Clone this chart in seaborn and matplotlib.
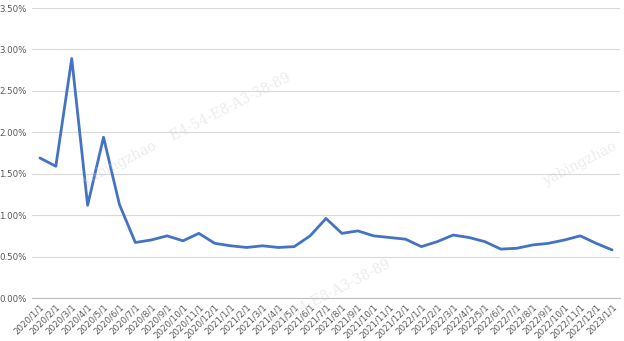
import numpy as np
import pandas as pd
import seaborn as sns
import matplotlib
matplotlib.use("Agg")
import matplotlib.pyplot as plt
from matplotlib.ticker import FuncFormatter, FixedLocator

dates = ["2020/1/1", "2020/2/1", "2020/3/1", "2020/4/1", "2020/5/1", "2020/6/1",
         "2020/7/1", "2020/8/1", "2020/9/1", "2020/10/1", "2020/11/1", "2020/12/1",
         "2021/1/1", "2021/2/1", "2021/3/1", "2021/4/1", "2021/5/1", "2021/6/1",
         "2021/7/1", "2021/8/1", "2021/9/1", "2021/10/1", "2021/11/1", "2021/12/1",
         "2022/1/1", "2022/2/1", "2022/3/1", "2022/4/1", "2022/5/1", "2022/6/1",
         "2022/7/1", "2022/8/1", "2022/9/1", "2022/10/1", "2022/11/1", "2022/12/1",
         "2023/1/1"]
values = [1.69, 1.59, 2.89, 1.12, 1.94, 1.13,
          0.67, 0.70, 0.75, 0.69, 0.78, 0.66,
          0.63, 0.61, 0.63, 0.61, 0.62, 0.75,
          0.96, 0.78, 0.81, 0.75, 0.73, 0.71,
          0.62, 0.68, 0.76, 0.73, 0.68, 0.59,
          0.60, 0.64, 0.66, 0.70, 0.75, 0.66,
          0.58]
y_ticks = [0.0, 0.5, 1.0, 1.5, 2.0, 2.5, 3.0, 3.5]

df = pd.DataFrame({"pos": np.arange(len(dates)), "rate": values})

sns.set_style("white")
plt.rcParams['font.family'] = ['DejaVu Sans']

fig = plt.figure(figsize=(6.24, 3.41), dpi=100)
ax = fig.add_axes([32/624, 43/341, 588/624, 290/341])

sns.lineplot(data=df, x="pos", y="rate", ax=ax, color="#4472C4", linewidth=2.0)

ax.set_xlim(-0.5, len(dates) - 0.5)
ax.set_ylim(0, 3.5)
ax.yaxis.set_major_locator(FixedLocator(y_ticks))
ax.yaxis.set_major_formatter(FuncFormatter(lambda v, p: f"{v:.2f}%"))
ax.grid(axis="y", color="#d9d9d9", linewidth=0.8)
ax.set_axisbelow(True)

ax.set_xticks(np.arange(len(dates)))
ax.set_xticklabels(dates, rotation=45, ha="right", rotation_mode="anchor",
                   fontsize=6.2, color="#595959")
ax.tick_params(axis="x", which="major", length=0, pad=3)
ax.set_xticks(np.arange(-0.5, len(dates)), minor=True)
ax.tick_params(axis="x", which="minor", length=4, color="#bfbfbf", width=0.8)
ax.tick_params(axis="y", length=0, labelsize=6.2, labelcolor="#595959", pad=4)

for s in ["left", "right", "top"]:
    ax.spines[s].set_visible(False)
ax.spines["bottom"].set_color("#bfbfbf")
ax.spines["bottom"].set_linewidth(0.8)
ax.set_xlabel("")
ax.set_ylabel("")

wm = dict(color="#d0d0d0", alpha=0.4, fontsize=10, family="DejaVu Serif",
          rotation=27, ha="center", va="center")
fig.text(0.30, 0.62, "yabingzhao    E4-54-E8-A3-38-89", transform=fig.transFigure, **wm)
fig.text(0.53, 0.14, "E4-54-E8-A3-38-89", transform=fig.transFigure, **wm)
fig.text(0.93, 0.52, "yabingzhao", transform=fig.transFigure, **wm)

fig.savefig("out.png", dpi=100)
